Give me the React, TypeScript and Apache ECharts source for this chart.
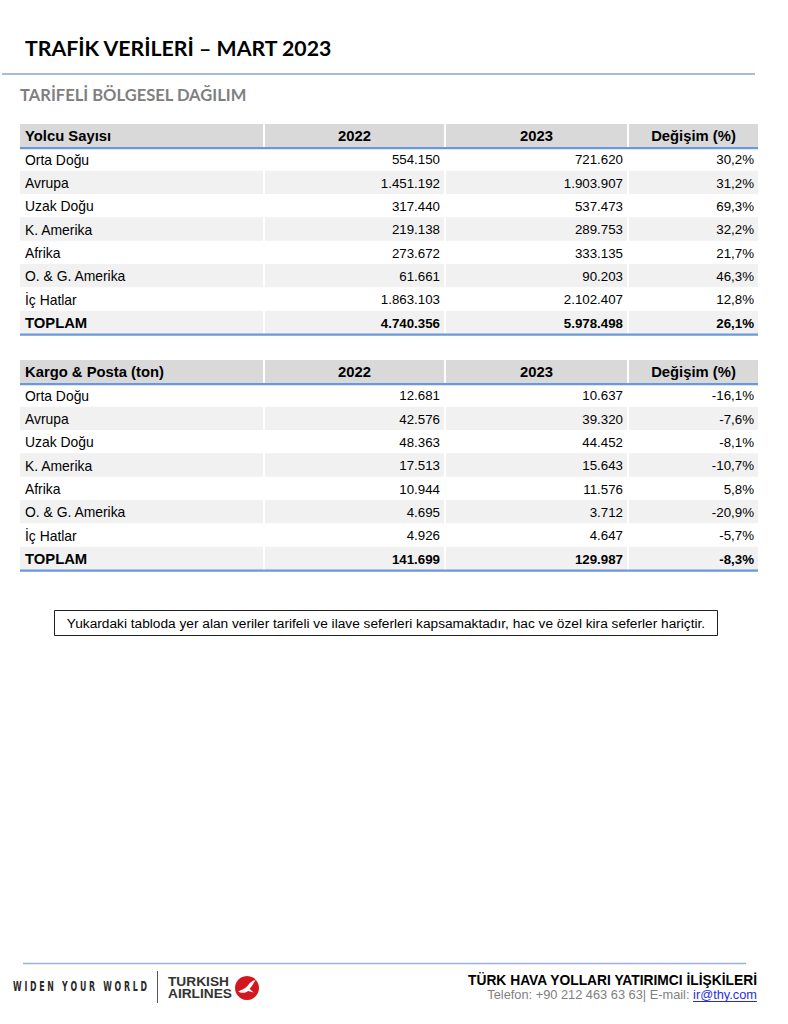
import React, { useEffect, useRef } from "react";
import * as echarts from "echarts";

// ---------- DATA ----------
const yearCols = ["2022", "2023", "Değişim (%)"];
const regions = ["Orta Doğu", "Avrupa", "Uzak Doğu", "K. Amerika", "Afrika", "O. & G. Amerika", "İç Hatlar"];
const totalLabel = "TOPLAM";

const paxTitle = "Yolcu Sayısı";
const pax2022 = [554150, 1451192, 317440, 219138, 273672, 61661, 1863103];
const pax2023 = [721620, 1903907, 537473, 289753, 333135, 90203, 2102407];
const paxChange = [30.2, 31.2, 69.3, 32.2, 21.7, 46.3, 12.8];
const paxTotal = [4740356, 5978498, 26.1];

const cargoTitle = "Kargo & Posta (ton)";
const cargo2022 = [12681, 42576, 48363, 17513, 10944, 4695, 4926];
const cargo2023 = [10637, 39320, 44452, 15643, 11576, 3712, 4647];
const cargoChange = [-16.1, -7.6, -8.1, -10.7, 5.8, -20.9, -5.7];
const cargoTotal = [141699, 129987, -8.3];

const pageTitle = "TRAFİK VERİLERİ – MART 2023";
const subTitle = "TARİFELİ BÖLGESEL DAĞILIM";
const noteText = "Yukardaki tabloda yer alan veriler tarifeli ve ilave seferleri kapsamaktadır, hac ve özel kira seferler hariçtir.";
const sloganText = "W I D E N   Y O U R   W O R L D";
const brandLines = ["TURKISH", "AIRLINES"];
const irTitle = "TÜRK HAVA YOLLARI YATIRIMCI İLİŞKİLERİ";
const irContact = "Telefon: +90 212 463 63 63| E-mail: ";
const irMail = "ir@thy.com";

// ---------- LAYOUT / STYLE ----------
const COL_EDGES = [0, 245, 426, 609, 738];
const GAP = 2;
const BLUE = "#6b98db";
const HEAD_FILL = "#d9d9d9";
const ALT_FILL = "#f1f1f1";
const ARIAL = "Arial, 'Liberation Sans', sans-serif";
const LATO = "Lato, 'Open Sans', sans-serif";

const BIRD =
  "M3 15.5 C7 13.5 10.5 12.5 12.8 9.5 C14.8 6.8 17 4.6 20.5 4 C18.6 7 17.2 10 14.6 12.8 L18.6 16.4 L13.2 15 C10 17.4 6 17.4 3 15.5 Z";
echarts.graphic.registerShape("thybird", echarts.graphic.extendPath(BIRD, {}));

function fmtInt(n: number) {
  const s = Math.abs(Math.round(n)).toString().replace(/\B(?=(\d{3})+(?!\d))/g, ".");
  return (n < 0 ? "-" : "") + s;
}
function fmtPct(n: number) {
  return n.toFixed(1).replace(".", ",") + "%";
}

let measureCtx: CanvasRenderingContext2D | null = null;
function measure(text: string, font: string) {
  if (!measureCtx) measureCtx = document.createElement("canvas").getContext("2d");
  measureCtx!.font = font;
  return measureCtx!.measureText(text).width;
}

type Cell = {
  text: string;
  align: "left" | "center" | "right";
  fill?: string;
  bold?: boolean;
  size: number;
  rule?: boolean;
};

function buildTable(title: string, a: number[], b: number[], ch: number[], tot: number[]) {
  const rows = [title, ...regions, totalLabel];
  const data: number[][] = [];
  const cells: Cell[] = [];
  const last = rows.length - 1;
  rows.forEach((label, r) => {
    const isHead = r === 0;
    const isTot = r === last;
    const fill = isHead ? HEAD_FILL : r % 2 === 0 ? ALT_FILL : undefined;
    let texts: string[];
    if (isHead) texts = [label, ...yearCols];
    else if (isTot) texts = [label, fmtInt(tot[0]), fmtInt(tot[1]), fmtPct(tot[2])];
    else texts = [label, fmtInt(a[r - 1]), fmtInt(b[r - 1]), fmtPct(ch[r - 1])];
    texts.forEach((t, c) => {
      const x0 = COL_EDGES[c];
      const x1 = c === 3 ? COL_EDGES[4] : COL_EDGES[c + 1] - GAP;
      data.push([x0, r, x1]);
      cells.push({
        text: t,
        align: c === 0 ? "left" : isHead ? "center" : "right",
        fill,
        bold: isHead || isTot,
        size: isHead ? 14.8 : isTot ? (c === 0 ? 14.8 : 13.3) : c === 0 ? 13.9 : 13.3,
      });
    });
  });
  [0, last].forEach((r) => {
    data.push([COL_EDGES[0], r, COL_EDGES[4]]);
    cells.push({ text: "", align: "left", size: 0, rule: true });
  });
  return { rows, data, cells };
}

function renderer(cells: Cell[]) {
  return (params: any, api: any) => {
    const cell = cells[params.dataIndex];
    const r = api.value(1);
    const p0 = api.coord([api.value(0), r]);
    const p1 = api.coord([api.value(2), r]);
    const h = api.size([0, 1])[1];
    const top = p0[1] - h / 2;
    if (cell.rule) {
      return {
        type: "rect",
        shape: { x: p0[0], y: top + h - 0.4, width: p1[0] - p0[0], height: 2.2 },
        style: { fill: BLUE },
      };
    }
    const children: any[] = [];
    if (cell.fill) {
      children.push({
        type: "rect",
        shape: { x: p0[0], y: top, width: p1[0] - p0[0], height: h },
        style: { fill: cell.fill },
      });
    }
    const tx = cell.align === "left" ? p0[0] + 5 : cell.align === "center" ? (p0[0] + p1[0]) / 2 : p1[0] - 4;
    children.push({
      type: "text",
      x: tx,
      y: p0[1] + 0.8,
      style: {
        text: cell.text,
        fill: "#000",
        fontSize: cell.size,
        fontWeight: cell.bold ? "bold" : "normal",
        fontFamily: ARIAL,
        align: cell.align,
        verticalAlign: "middle",
        textAlign: cell.align,
        textVerticalAlign: "middle",
      },
    });
    return { type: "group", children };
  };
}

function textEl(text: string, x: number, y: number, style: any, extra: any = {}) {
  return {
    type: "text",
    x,
    y,
    ...extra,
    style: {
      text,
      align: style.align || "left",
      textAlign: style.align || "left",
      verticalAlign: "middle",
      textVerticalAlign: "middle",
      ...style,
    },
  };
}

export default function App() {
  const ref = useRef<HTMLDivElement>(null);
  useEffect(() => {
    if (!ref.current) return;
    const chart = echarts.init(ref.current, undefined, { renderer: "svg" });
    const t1 = buildTable(paxTitle, pax2022, pax2023, paxChange, paxTotal);
    const t2 = buildTable(cargoTitle, cargo2022, cargo2023, cargoChange, cargoTotal);

    const titleSize = (22 * 308) / measure(pageTitle, `bold 22px ${LATO}`);
    const subSize = (16 * 227) / measure(subTitle, `bold 16px ${LATO}`);
    const sloganFont = `bold 14px 'DejaVu Sans Condensed', 'DejaVu Sans', sans-serif`;
    const sloganScale = 134 / measure(sloganText, sloganFont);
    const brandFont = `bold 12.5px ${ARIAL}`;
    const brandScale = 61 / measure(brandLines[0], brandFont);
    const mailW = measure(irMail, `12.8px ${ARIAL}`);

    const grids = [
      { left: 20, width: 738, top: 124, height: 210 },
      { left: 20, width: 738, top: 360, height: 210 },
    ];

    chart.setOption({
      animation: false,
      grid: grids,
      xAxis: grids.map((_, i) => ({
        type: "value",
        gridIndex: i,
        min: 0,
        max: 738,
        show: false,
      })),
      yAxis: [t1, t2].map((t, i) => ({
        type: "category",
        gridIndex: i,
        data: t.rows,
        inverse: true,
        show: false,
      })),
      series: [t1, t2].map((t, i) => ({
        type: "custom",
        xAxisIndex: i,
        yAxisIndex: i,
        encode: { x: [0, 2], y: 1 },
        data: t.data,
        renderItem: renderer(t.cells),
        silent: true,
      })),
      graphic: [
        textEl(pageTitle, 25, 48, { fontSize: titleSize, fontWeight: "bold", fontFamily: LATO, fill: "#000" }),
        { type: "line", shape: { x1: 2, y1: 74, x2: 755, y2: 74 }, style: { stroke: "#8fa6cf", lineWidth: 1.4 } },
        textEl(subTitle, 20, 95, { fontSize: subSize, fontWeight: "bold", fontFamily: LATO, fill: "#7f7f7f" }),
        {
          type: "rect",
          shape: { x: 54.5, y: 610.5, width: 663, height: 25 },
          style: { fill: "#fff", stroke: "#222", lineWidth: 1 },
        },
        textEl(noteText, 386, 623.5, { fontSize: 13.7, fontFamily: ARIAL, fill: "#000", align: "center" }),
        { type: "line", shape: { x1: 23, y1: 963.5, x2: 746, y2: 963.5 }, style: { stroke: "#9ab3dc", lineWidth: 1.3 } },
        textEl(sloganText, 13, 986, { font: sloganFont, fill: "#2a2a2a" }, { scaleX: sloganScale }),
        { type: "line", shape: { x1: 157.5, y1: 971, x2: 157.5, y2: 1003 }, style: { stroke: "#555", lineWidth: 1 } },
        textEl(brandLines[0], 168, 981.5, { font: brandFont, fill: "#333" }, { scaleX: brandScale }),
        textEl(brandLines[1], 168, 994, { font: brandFont, fill: "#333" }, { scaleX: brandScale }),
        { type: "circle", shape: { cx: 247, cy: 988, r: 12 }, style: { fill: "#d3171f" } },
        { type: "thybird", x: 235, y: 976, style: { fill: "#fff" } },
        textEl(irTitle, 757, 980, { fontSize: 13.8, fontWeight: "bold", fontFamily: ARIAL, fill: "#000", align: "right" }),
        textEl(irMail, 757, 994, { fontSize: 12.8, fontFamily: ARIAL, fill: "#1f2fe0", align: "right" }),
        { type: "line", shape: { x1: 757 - mailW, y1: 1001.5, x2: 757, y2: 1001.5 }, style: { stroke: "#1f2fe0", lineWidth: 1 } },
        textEl(irContact, 757 - mailW, 994, { fontSize: 12.8, fontFamily: ARIAL, fill: "#808080", align: "right" }),
      ],
    });
    return () => chart.dispose();
  }, []);
  return (
    <div
      ref={ref}
      style={{ position: "absolute", left: 0, top: 0, width: 788, height: 1024, background: "#fff" }}
    />
  );
}
